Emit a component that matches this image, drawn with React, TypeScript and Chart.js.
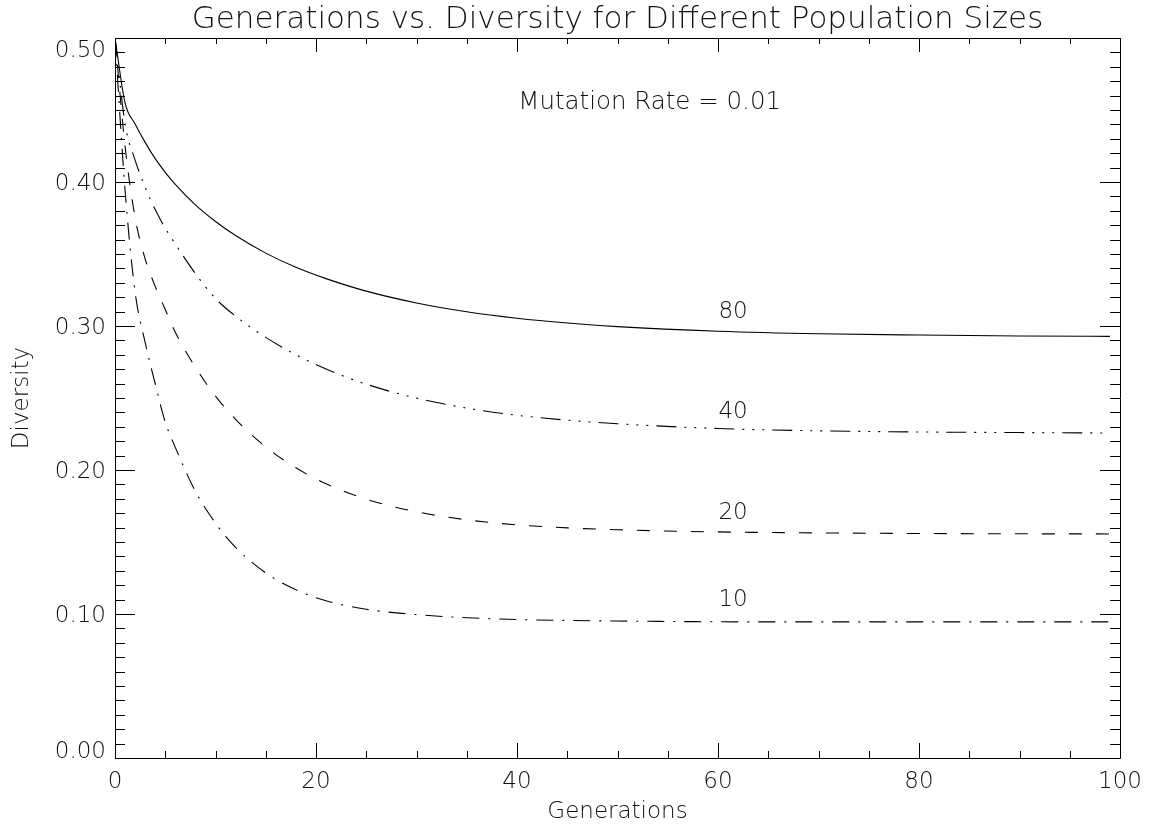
import React, { useEffect, useRef } from "react";
import { Chart, registerables } from "chart.js";

Chart.register(...registerables);

const generations = [0, 1, 2, 3, 4, 5, 6, 8, 10, 12, 15, 18, 21, 25, 30, 35, 40, 45, 50, 60, 70, 80, 90, 99];
const pop80 = [0.5, 0.455, 0.4403, 0.4275, 0.4162, 0.4067, 0.3983, 0.3841, 0.3726, 0.3628, 0.3506, 0.3408, 0.3329, 0.3242, 0.316, 0.3099, 0.3054, 0.3021, 0.2996, 0.2964, 0.2946, 0.2937, 0.2931, 0.2928];
const pop40 = [0.5, 0.4405, 0.4152, 0.3963, 0.3809, 0.3679, 0.357, 0.3364, 0.3191, 0.3068, 0.2921, 0.28, 0.2701, 0.2596, 0.2499, 0.243, 0.238, 0.2346, 0.2321, 0.2288, 0.2272, 0.2264, 0.226, 0.2257];
const pop20 = [0.5, 0.425, 0.3753, 0.3466, 0.3275, 0.3115, 0.2956, 0.2714, 0.2513, 0.2352, 0.216, 0.2015, 0.1904, 0.1797, 0.171, 0.1654, 0.1619, 0.1598, 0.1585, 0.157, 0.1563, 0.1559, 0.1557, 0.1556];
const pop10 = [0.5, 0.3945, 0.3235, 0.2886, 0.2599, 0.2333, 0.2157, 0.1852, 0.1631, 0.1463, 0.1285, 0.1169, 0.1092, 0.1033, 0.0996, 0.0974, 0.0962, 0.0955, 0.0951, 0.0946, 0.0945, 0.0945, 0.0945, 0.0945];

const seriesNames = ["80", "40", "20", "10"];
const labelGen = [61.5, 61.5, 61.5, 61.5];
const labelDiv = [0.31, 0.24, 0.17, 0.11];

const xTicks = [0, 20, 40, 60, 80, 100];
const yTicks = [0, 0.1, 0.2, 0.3, 0.4, 0.5];
const yTickLabels = ["0.00", "0.10", "0.20", "0.30", "0.40", "0.50"];

const titleText = "Generations vs. Diversity for Different Population Sizes";
const xTitle = "Generations";
const yTitle = "Diversity";
const noteText = "Mutation Rate = 0.01";
const noteGen = 53.2;
const noteDiv = 0.455;

const FONT = '"DejaVu Sans", "Liberation Sans", sans-serif';

const axesPlugin = {
  id: "idlAxes",
  afterDraw(chart: any) {
    const { ctx, chartArea: a, scales } = chart;
    const xs = scales.x;
    const ys = scales.y;
    ctx.save();
    ctx.strokeStyle = "#000";
    ctx.lineWidth = 1;
    ctx.setLineDash([]);
    ctx.beginPath();
    ctx.rect(Math.round(a.left) + 0.5, Math.round(a.top) + 0.5, Math.round(a.right - a.left), Math.round(a.bottom - a.top));
    ctx.stroke();
    ctx.beginPath();
    for (let i = 0; i <= 50; i++) {
      const py = Math.round(ys.getPixelForValue(i / 100)) + 0.5;
      const len = i % 10 === 0 ? 20 : 10;
      ctx.moveTo(a.left, py);
      ctx.lineTo(a.left + len, py);
      ctx.moveTo(a.right, py);
      ctx.lineTo(a.right - len, py);
    }
    for (let i = 0; i <= 20; i++) {
      const px = Math.round(xs.getPixelForValue(i * 5)) + 0.5;
      const major = i % 4 === 0;
      ctx.moveTo(px, a.bottom);
      ctx.lineTo(px, a.bottom - (major ? 15 : 7));
      ctx.moveTo(px, a.top);
      ctx.lineTo(px, a.top + (major ? 14 : 6));
    }
    ctx.stroke();

    ctx.fillStyle = "#111";
    ctx.font = `200 23px ${FONT}`;
    ctx.textAlign = "right";
    ctx.textBaseline = "middle";
    yTicks.forEach((v, i) => {
      let off = 2;
      if (i === yTicks.length - 1) off = 13;
      if (i === 0) off = -6;
      ctx.fillText(yTickLabels[i], a.left - 9, ys.getPixelForValue(v) + off);
    });
    ctx.textAlign = "center";
    xTicks.forEach((v) => {
      ctx.fillText(String(v), xs.getPixelForValue(v), a.bottom + 24);
    });
    ctx.fillText(xTitle, (a.left + a.right) / 2, a.bottom + 54);
    ctx.save();
    ctx.translate(22, (a.top + a.bottom) / 2);
    ctx.rotate(-Math.PI / 2);
    ctx.fillText(yTitle, 0, 0);
    ctx.restore();
    seriesNames.forEach((n, i) => {
      ctx.fillText(n, xs.getPixelForValue(labelGen[i]), ys.getPixelForValue(labelDiv[i]));
    });
    ctx.font = `200 24.5px ${FONT}`;
    ctx.fillText(noteText, xs.getPixelForValue(noteGen), ys.getPixelForValue(noteDiv));
    ctx.font = `200 31px ${FONT}`;
    ctx.fillText(titleText, (a.left + a.right) / 2, 20);
    ctx.restore();
  },
};

function mk(values: number[]) {
  return generations.map((g, i) => ({ x: g, y: values[i] }));
}

export default function App() {
  const ref = useRef<HTMLCanvasElement | null>(null);
  useEffect(() => {
    if (!ref.current) return;
    const common = {
      borderColor: "#000",
      borderWidth: 1.1,
      pointRadius: 0,
      fill: false,
      cubicInterpolationMode: "monotone" as const,
    };
    const chart = new Chart(ref.current, {
      type: "line",
      data: {
        datasets: [
          { ...common, label: seriesNames[0], data: mk(pop80), borderDash: [] },
          { ...common, label: seriesNames[1], data: mk(pop40), borderDash: [20, 8, 2, 8, 2, 8, 2, 8] },
          { ...common, label: seriesNames[2], data: mk(pop20), borderDash: [13, 14] },
          { ...common, label: seriesNames[3], data: mk(pop10), borderDash: [17, 9, 2, 9] },
        ],
      },
      options: {
        animation: false,
        responsive: false,
        events: [],
        layout: { padding: { left: 115, right: 32, top: 38, bottom: 69 } },
        plugins: { legend: { display: false }, tooltip: { enabled: false }, title: { display: false } },
        scales: {
          x: { type: "linear", min: 0, max: 100, display: false },
          y: { type: "linear", min: 0, max: 0.5, display: false },
        },
      },
      plugins: [axesPlugin],
    });
    return () => chart.destroy();
  }, []);
  return (
    <div style={{ position: "fixed", left: 0, top: 0, width: 1152, height: 827, background: "#fff" }}>
      <canvas ref={ref} width={1152} height={827} style={{ display: "block" }} />
    </div>
  );
}
